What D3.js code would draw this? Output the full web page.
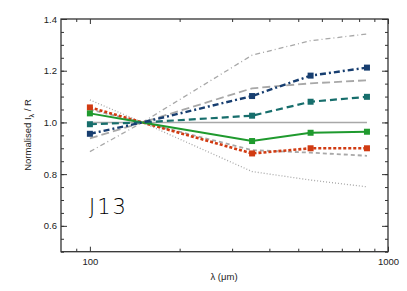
<!DOCTYPE html>
<html>
<head>
<meta charset="utf-8">
<script src="https://cdn.jsdelivr.net/npm/d3@7"></script>
<style>
  body { margin: 0; background: #fff; }
  text { font-family: "Liberation Sans", Arial, sans-serif; }
</style>
</head>
<body>
<svg id="chart" width="407" height="291"></svg>
<script>
// wavelengths in micron
const wavelengths = [100, 150, 350, 550, 850];

// coloured model curves (square markers, none at the normalisation point)
const navyVals  = [0.956, 1.0, 1.102, 1.181, 1.212];
const tealVals  = [0.993, 1.0, 1.026, 1.080, 1.099];
const greenVals = [1.035, 1.0, 0.928, 0.960, 0.964];
const redVals   = [1.058, 1.0, 0.880, 0.900, 0.900];

// grey reference curves
const greyDashDot   = [0.887, 1.0, 1.260, 1.316, 1.342];
const greyLongDash  = [0.938, 1.0, 1.132, 1.151, 1.163];
const greyShortDash = [1.050, 1.0, 0.893, 0.883, 0.871];
const greyDotted    = [1.087, 1.0, 0.810, 0.777, 0.751];
const greyFlat      = [1.0, 1.0, 1.0, 1.0, 1.0];

const yMajor = [0.6, 0.8, 1.0, 1.2, 1.4];
const yMinor = d3.range(0.5, 1.401, 0.05);
const xMajor = [100, 1000];
const xMinor = [90, 200, 300, 400, 500, 600, 700, 800, 900];

const margin = { left: 61, right: 388, top: 19, bottom: 251.7 };

const svg = d3.select("#chart");

const x = d3.scaleLog().domain([80, 1000]).range([margin.left, margin.right]);
const y = d3.scaleLinear().domain([0.5, 1.4]).range([margin.bottom, margin.top]);

const axisColor = "#333";

function styleAxis(g) {
    g.select(".domain").remove();
    g.selectAll(".tick line").attr("stroke", axisColor).attr("stroke-width", 1);
    g.selectAll(".tick text").attr("fill", "#222").attr("font-size", "9.5px");
}

// bottom axis
svg.append("g")
    .attr("transform", `translate(0,${margin.bottom})`)
    .call(d3.axisBottom(x).tickValues(xMajor).tickFormat(d3.format("d")).tickSize(-5).tickPadding(7))
    .call(styleAxis);
svg.append("g")
    .attr("transform", `translate(0,${margin.bottom})`)
    .call(d3.axisBottom(x).tickValues(xMinor).tickFormat("").tickSize(-3))
    .call(styleAxis);

// top axis
svg.append("g")
    .attr("transform", `translate(0,${margin.top})`)
    .call(d3.axisTop(x).tickValues(xMajor).tickFormat("").tickSize(-5))
    .call(styleAxis);
svg.append("g")
    .attr("transform", `translate(0,${margin.top})`)
    .call(d3.axisTop(x).tickValues(xMinor).tickFormat("").tickSize(-3))
    .call(styleAxis);

// left axis
svg.append("g")
    .attr("transform", `translate(${margin.left},0)`)
    .call(d3.axisLeft(y).tickValues(yMajor).tickFormat(d3.format(".1f")).tickSize(-6).tickPadding(4))
    .call(styleAxis);
svg.append("g")
    .attr("transform", `translate(${margin.left},0)`)
    .call(d3.axisLeft(y).tickValues(yMinor).tickFormat("").tickSize(-3))
    .call(styleAxis);

// right axis
svg.append("g")
    .attr("transform", `translate(${margin.right},0)`)
    .call(d3.axisRight(y).tickValues(yMajor).tickFormat("").tickSize(-6))
    .call(styleAxis);
svg.append("g")
    .attr("transform", `translate(${margin.right},0)`)
    .call(d3.axisRight(y).tickValues(yMinor).tickFormat("").tickSize(-3))
    .call(styleAxis);

// frame
svg.append("rect")
    .attr("x", margin.left)
    .attr("y", margin.top)
    .attr("width", margin.right - margin.left)
    .attr("height", margin.bottom - margin.top)
    .attr("fill", "none")
    .attr("stroke", axisColor)
    .attr("stroke-width", 1.3);

const line = d3.line()
    .x((d, i) => x(wavelengths[i]))
    .y(d => y(d));

const curves = [
    { vals: greyFlat,      color: "#a8a8a8", width: 1.5, dash: null },
    { vals: greyDotted,    color: "#a8a8a8", width: 1.3, dash: "1,2" },
    { vals: greyDashDot,   color: "#a8a8a8", width: 1.3, dash: "5,3,1,3" },
    { vals: greyLongDash,  color: "#a8a8a8", width: 1.8, dash: "8,4" },
    { vals: greyShortDash, color: "#a8a8a8", width: 1.8, dash: "4,3" },
    { vals: redVals,       color: "#d13b12", width: 2.6, dash: "3,2", marker: true },
    { vals: greenVals,     color: "#1f9a2e", width: 2, dash: null, marker: true },
    { vals: tealVals,      color: "#176e6c", width: 2.2, dash: "7,4", marker: true },
    { vals: navyVals,      color: "#173e70", width: 2.4, dash: "6,3,2,3", marker: true }
];

curves.forEach(c => {
    svg.append("path")
        .datum(c.vals)
        .attr("d", line)
        .attr("fill", "none")
        .attr("stroke", c.color)
        .attr("stroke-width", c.width)
        .attr("stroke-dasharray", c.dash);
    if (c.marker) {
        const pts = c.vals.map((v, i) => ({ w: wavelengths[i], v })).filter((p, i) => i !== 1);
        svg.selectAll(null)
            .data(pts)
            .join("rect")
            .attr("x", d => x(d.w) - 3)
            .attr("y", d => y(d.v) - 3)
            .attr("width", 6)
            .attr("height", 6)
            .attr("fill", c.color);
    }
});

// label inside plot
svg.append("text")
    .attr("x", 89)
    .attr("y", 214)
    .attr("font-size", "21px")
    .attr("letter-spacing", "2px")
    .attr("fill", "#000")
    .style("font-family", "'DejaVu Sans', sans-serif")
    .style("font-weight", "200")
    .text("J13");

// axis titles
svg.append("text")
    .attr("x", 224)
    .attr("y", 280)
    .attr("text-anchor", "middle")
    .attr("font-size", "9.5px")
    .attr("fill", "#222")
    .text("λ (μm)");

const yTitle = svg.append("text")
    .attr("transform", "translate(31,135) rotate(-90)")
    .attr("text-anchor", "middle")
    .attr("font-size", "9.5px")
    .attr("fill", "#222");
yTitle.append("tspan").text("Normalised I");
yTitle.append("tspan").attr("font-size", "7px").attr("dy", 2.5).text("λ");
yTitle.append("tspan").attr("dy", -2.5).text(" / R");
</script>
</body>
</html>
